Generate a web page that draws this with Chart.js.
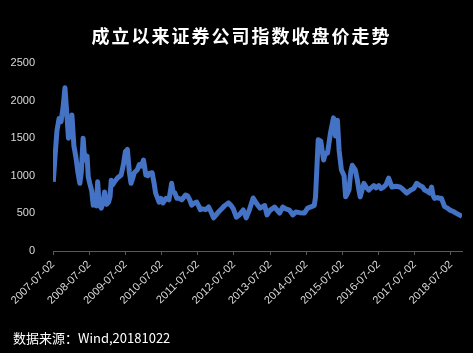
<!DOCTYPE html>
<html>
<head>
<meta charset="utf-8">
<script src="https://cdn.jsdelivr.net/npm/chart.js@4"></script>
<style>
  body { margin: 0; background: #000; }
  #wrap { position: relative; width: 473px; height: 353px; background: #000; }
  #title {
    position: absolute; left: 0; top: 22px; width: 483px; text-align: center;
    color: #fff; font: bold 18px "Noto Sans CJK SC", sans-serif; letter-spacing: 2px;
  }
  #source {
    position: absolute; left: 13px; top: 328px;
    color: #fff; font: 13px "Noto Sans CJK SC", sans-serif;
  }
  canvas { position: absolute; left: 0; top: 0; }
</style>
</head>
<body>
<div id="wrap">
  <canvas id="chart" width="473" height="353"></canvas>
  <div id="title">成立以来证券公司指数收盘价走势</div>
  <div id="source">数据来源：Wind,20181022</div>
</div>
<script>
// ====== DATA ======
const startDate = '2007-07-02';
const endDate = '2018-10-22';
const tickLabels = ['2007-07-02', '2008-07-02', '2009-07-02', '2010-07-02', '2011-07-02', '2012-07-02',
    '2013-07-02', '2014-07-02', '2015-07-02', '2016-07-02', '2017-07-02', '2018-07-02'];
const yTicks = [0, 500, 1000, 1500, 2000, 2500];

const dates = [
    '2007-07-05', '2007-07-22', '2007-08-11', '2007-09-01', '2007-09-21', '2007-10-11', '2007-10-31',
    '2007-11-20', '2007-12-05', '2007-12-20', '2008-01-09', '2008-01-29', '2008-02-18', '2008-03-09',
    '2008-03-29', '2008-04-13', '2008-05-01', '2008-05-18', '2008-06-10', '2008-06-22', '2008-07-07',
    '2008-07-27', '2008-08-11', '2008-08-26', '2008-09-12', '2008-09-25', '2008-10-10', '2008-11-01',
    '2008-11-19', '2008-12-04', '2008-12-24', '2009-01-13', '2009-01-28', '2009-02-09', '2009-02-22',
    '2009-03-14', '2009-04-13', '2009-05-20', '2009-06-12', '2009-07-02', '2009-07-22', '2009-08-11',
    '2009-08-28', '2009-09-10', '2009-09-30', '2009-10-30', '2009-11-19', '2009-12-09', '2010-01-01',
    '2010-01-25', '2010-02-12', '2010-02-27', '2010-03-29', '2010-04-18', '2010-05-03', '2010-05-18',
    '2010-06-07', '2010-06-27', '2010-07-17', '2010-08-16', '2010-09-15', '2010-10-12', '2010-10-25',
    '2010-11-14', '2010-12-04', '2010-12-24', '2011-01-23', '2011-03-01', '2011-03-24', '2011-04-13',
    '2011-05-03', '2011-06-02', '2011-06-22', '2011-07-12', '2011-07-29', '2011-08-21', '2011-09-20',
    '2011-10-20', '2011-11-14', '2011-12-09', '2011-12-29', '2012-01-28', '2012-02-27', '2012-03-28',
    '2012-05-07', '2012-06-06', '2012-06-26', '2012-07-26', '2012-08-25', '2012-10-04', '2012-11-03',
    '2012-12-03', '2013-01-12', '2013-02-11', '2013-03-23', '2013-05-09', '2013-06-01', '2013-07-01',
    '2013-08-17', '2013-09-19', '2013-10-06', '2013-11-08', '2013-12-08', '2014-01-14', '2014-02-16',
    '2014-03-18', '2014-04-27', '2014-06-13', '2014-07-16', '2014-08-25', '2014-09-21', '2014-10-04',
    '2014-10-31', '2014-11-26', '2014-12-24', '2015-01-13', '2015-02-02', '2015-03-04', '2015-04-03',
    '2015-04-23', '2015-05-13', '2015-05-30', '2015-06-22', '2015-07-19', '2015-08-04', '2015-08-21',
    '2015-09-07', '2015-09-25', '2015-10-10', '2015-11-09', '2015-11-29', '2015-12-16', '2015-12-29',
    '2016-02-04', '2016-02-27', '2016-03-25', '2016-04-17', '2016-05-14', '2016-06-06', '2016-07-03',
    '2016-07-26', '2016-08-22', '2016-09-14', '2016-10-11', '2016-11-14', '2016-12-24', '2017-02-02',
    '2017-03-04', '2017-04-13', '2017-05-23', '2017-06-22', '2017-07-22', '2017-08-21', '2017-09-20',
    '2017-10-10', '2017-11-09', '2017-11-29', '2017-12-19', '2018-01-03', '2018-01-18', '2018-02-17',
    '2018-03-09', '2018-03-29', '2018-04-29', '2018-05-29', '2018-06-28', '2018-07-28', '2018-08-27',
    '2018-10-22'
];
const closes = [
    920, 1250, 1600, 1760, 1720, 1900, 2170,
    1800, 1500, 1550, 1810, 1400, 1250, 1050,
    900, 1050, 1500, 1210, 1260, 985, 900,
    800, 610, 620, 600, 920, 620, 570,
    650, 785, 620, 650, 720, 940, 880,
    920, 970, 1010, 1150, 1320, 1350, 1050,
    900, 950, 1040, 1080, 1150, 1130, 1210,
    1010, 1000, 1030, 1040, 900, 770, 720,
    650, 700, 640, 700, 680, 900, 790,
    770, 700, 700, 680, 745, 730, 680,
    610, 640, 650, 600, 550, 560, 550,
    585, 520, 440, 470, 520, 560, 600,
    640, 600, 560, 450, 480, 545, 440,
    540, 705, 640, 570, 605, 480, 540,
    585, 530, 505, 585, 560, 545, 480,
    520, 510, 505, 570, 590, 605, 720,
    1480, 1460, 1210, 1300, 1300, 1570, 1770,
    1530, 1740, 1340, 1080, 1000, 720, 760,
    810, 1050, 1140, 1080, 950, 810, 720,
    900, 850, 810, 840, 870, 840, 870,
    830, 850, 880, 970, 850, 860, 850,
    820, 770, 810, 830, 900, 870, 850,
    810, 790, 770, 850, 740, 700, 710,
    700, 700, 590, 570, 540, 525, 500,
    460
];

// ====== HELPERS ======
const DAY_IN_MS = 24 * 3600 * 1000;
function yearsSinceStart(date) {
    return (new Date(date) - new Date(startDate)) / DAY_IN_MS / 365.25;
}

const points = dates.map((d, i) => ({ x: yearsSinceStart(d), y: closes[i] }));
const tickValues = tickLabels.map(yearsSinceStart);

const axisColor = '#595959';
const labelColor = '#d9d9d9';

new Chart(document.getElementById('chart'), {
    type: 'line',
    data: {
        datasets: [{
            data: points,
            borderColor: '#4472c4',
            borderWidth: 5,
            borderJoinStyle: 'round',
            pointRadius: 0,
            tension: 0,
            fill: false
        }]
    },
    options: {
        responsive: false,
        animation: false,
        devicePixelRatio: 1,
        layout: { padding: { top: 63, right: 11, left: 0, bottom: 0 } },
        plugins: {
            legend: { display: false },
            tooltip: { enabled: false },
            title: { display: false }
        },
        scales: {
            x: {
                type: 'linear',
                min: 0,
                max: yearsSinceStart(endDate),
                afterBuildTicks: scale => { scale.ticks = tickValues.map(v => ({ value: v })); },
                afterFit: scale => { scale.height = 102; },
                grid: { display: true, drawOnChartArea: false, color: axisColor, tickLength: 4 },
                border: { display: true, color: axisColor },
                ticks: {
                    color: labelColor,
                    font: { family: 'Liberation Sans', size: 11 },
                    minRotation: 45,
                    maxRotation: 45,
                    autoSkip: false,
                    padding: 3,
                    callback: (value, index) => tickLabels[index]
                }
            },
            y: {
                min: 0,
                max: 2500,
                afterBuildTicks: scale => { scale.ticks = yTicks.map(v => ({ value: v })); },
                afterFit: scale => { scale.width = 53; },
                grid: { display: false },
                border: { display: false },
                ticks: {
                    color: labelColor,
                    font: { family: 'Liberation Sans', size: 11 },
                    padding: 10,
                    callback: value => String(value)
                }
            }
        }
    }
});
</script>
</body>
</html>
